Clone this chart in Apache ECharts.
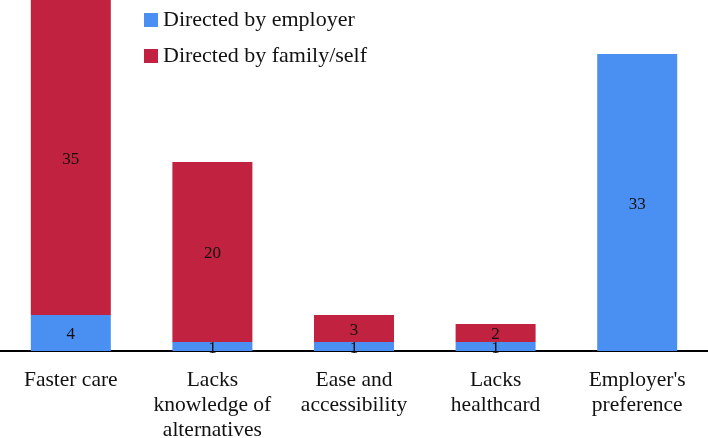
<!DOCTYPE html>
<html><head><meta charset="utf-8">
<script src="https://cdn.jsdelivr.net/npm/echarts@6/dist/echarts.min.js"></script>
<style>html,body{margin:0;padding:0;background:#fff}#c{width:708px;height:438px}</style>
</head><body><div id="c"></div>
<script>
var categories = ["Faster care", "Lacks\nknowledge of\nalternatives", "Ease and\naccessibility", "Lacks\nhealthcard", "Employer's\npreference"];
var employerValues = [4, 1, 1, 1, 33];
var familyValues = [35, 20, 3, 2, 0];
var seriesNames = ["Directed by employer", "Directed by family/self"];

var font = "'Liberation Serif', 'DejaVu Serif', serif";
var chart = echarts.init(document.getElementById('c'));
var labelCfg = {
  show: true, position: 'inside', color: '#111', fontFamily: font, fontSize: 17, offset: [0, 2],
  formatter: function (p) { return p.value ? p.value : ''; }
};
chart.setOption({
  animation: false,
  grid: { left: 0, right: 0, top: 0, bottom: 87, containLabel: false, outerBoundsMode: 'none' },
  legend: {
    orient: 'vertical', left: 139, top: 4, itemWidth: 14, itemHeight: 14, itemGap: 14,
    icon: 'rect',
    textStyle: { fontFamily: font, fontSize: 22, color: '#111' },
    data: seriesNames
  },
  xAxis: {
    type: 'category', data: categories,
    axisLine: { lineStyle: { color: '#000', width: 2 } },
    axisTick: { show: false },
    axisLabel: { fontFamily: font, fontSize: 21.5, color: '#111', lineHeight: 25, margin: 17, interval: 0 }
  },
  yAxis: { type: 'value', min: 0, max: 39, show: false, splitLine: { show: false } },
  series: [
    { name: seriesNames[0], type: 'bar', stack: 'a', barWidth: 80, data: employerValues,
      itemStyle: { color: '#4A90F2' }, label: labelCfg },
    { name: seriesNames[1], type: 'bar', stack: 'a', barWidth: 80, data: familyValues,
      itemStyle: { color: '#C0223F' }, label: labelCfg }
  ]
});
</script></body></html>
